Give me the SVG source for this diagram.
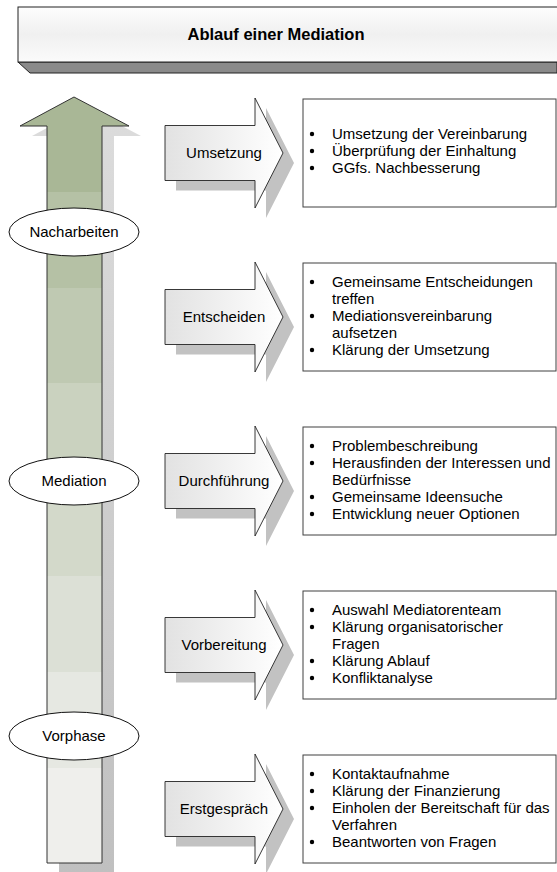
<svg xmlns="http://www.w3.org/2000/svg" width="557" height="872" viewBox="0 0 557 872">
<style>
text{font-family:"Liberation Sans",Arial,sans-serif;fill:#000}
.lbl{font-size:15px;text-anchor:middle}
.bl{font-size:15px}
.box{fill:#fff;stroke:#404040;stroke-width:1}
.arr{fill:url(#hg);stroke:#222;stroke-width:0.9}
.sh{fill:#c2c2c2}
.ell{fill:#fff;stroke:#111;stroke-width:1}
.dot{fill:#000}
</style>
<defs>
<linearGradient id="hg" x1="0" y1="0" x2="1" y2="0">
<stop offset="0" stop-color="#e2e2e2"/><stop offset="1" stop-color="#ffffff"/>
</linearGradient>
<linearGradient id="tg" x1="0" y1="0" x2="0" y2="1">
<stop offset="0" stop-color="#fdfdfd"/><stop offset="0.5" stop-color="#f0f0f0"/><stop offset="1" stop-color="#fbfbfb"/>
</linearGradient>
<linearGradient id="vg" gradientUnits="userSpaceOnUse" x1="0" y1="97" x2="0" y2="863">
<stop offset="0" stop-color="#a9b796"/><stop offset="0.124" stop-color="#a9b796"/>
<stop offset="0.124" stop-color="#b5c1a5"/><stop offset="0.249" stop-color="#b5c1a5"/>
<stop offset="0.249" stop-color="#bfc9b2"/><stop offset="0.373" stop-color="#bfc9b2"/>
<stop offset="0.373" stop-color="#cad2bf"/><stop offset="0.5" stop-color="#cad2bf"/>
<stop offset="0.5" stop-color="#d3d9ca"/><stop offset="0.625" stop-color="#d3d9ca"/>
<stop offset="0.625" stop-color="#dce0d6"/><stop offset="0.751" stop-color="#dce0d6"/>
<stop offset="0.751" stop-color="#e6e8e2"/><stop offset="0.876" stop-color="#e6e8e2"/>
<stop offset="0.876" stop-color="#efefec"/><stop offset="1" stop-color="#efefec"/>
</linearGradient>
<linearGradient id="vsh" x1="0" y1="0" x2="0" y2="1">
<stop offset="0" stop-color="#dcdcdc"/><stop offset="1" stop-color="#c0c0c0"/>
</linearGradient>
<polygon id="ha" points="165,-27.5 255,-27.5 255,-55 283,0 255,55 255,27.5 165,27.5"/>
</defs>

<g id="title">
<polygon points="18,62 30,73 557,73 557,62" fill="#8a8a8a" stroke="#222" stroke-width="1"/>
<rect x="18" y="7" width="545" height="55" fill="url(#tg)" stroke="#222" stroke-width="1"/>
<text x="276" y="40" font-size="16.5" font-weight="bold" text-anchor="middle">Ablauf einer Mediation</text>
</g>

<g id="timeline">
<polygon points="86,107 141,136 114,136 114,872 59,872 59,136 32,136" fill="url(#vsh)"/>
<polygon points="74,97 129,126 102,126 102,863 47,863 47,126 20,126" fill="url(#vg)" stroke="#333" stroke-width="1"/>
</g>

<g id="phase-nacharbeiten">
<ellipse class="ell" cx="74" cy="232" rx="65" ry="24"/>
<text class="lbl" x="74" y="237">Nacharbeiten</text>
</g>
<g id="phase-mediation">
<ellipse class="ell" cx="74" cy="481" rx="65" ry="24"/>
<text class="lbl" x="74" y="486">Mediation</text>
</g>
<g id="phase-vorphase">
<ellipse class="ell" cx="74" cy="736" rx="65" ry="24"/>
<text class="lbl" x="74" y="741">Vorphase</text>
</g>

<g id="step-umsetzung" transform="translate(0,153)">
<use href="#ha" class="sh" transform="translate(11,10)"/>
<use href="#ha" class="arr"/>
<text class="lbl" x="224" y="5">Umsetzung</text>
<rect class="box" x="303" y="-54" width="253" height="108"/>
<circle class="dot" cx="312" cy="-19" r="2.2"/><text class="bl" x="332" y="-14">Umsetzung der Vereinbarung</text>
<circle class="dot" cx="312" cy="-2" r="2.2"/><text class="bl" x="332" y="3">Überprüfung der Einhaltung</text>
<circle class="dot" cx="312" cy="15" r="2.2"/><text class="bl" x="332" y="20">GGfs. Nachbesserung</text>
</g>

<g id="step-entscheiden" transform="translate(0,317)">
<use href="#ha" class="sh" transform="translate(11,10)"/>
<use href="#ha" class="arr"/>
<text class="lbl" x="224" y="5">Entscheiden</text>
<rect class="box" x="303" y="-54" width="253" height="108"/>
<circle class="dot" cx="312" cy="-35" r="2.2"/><text class="bl" x="332" y="-30">Gemeinsame Entscheidungen</text>
<text class="bl" x="332" y="-13">treffen</text>
<circle class="dot" cx="312" cy="-1" r="2.2"/><text class="bl" x="332" y="4">Mediationsvereinbarung</text>
<text class="bl" x="332" y="21">aufsetzen</text>
<circle class="dot" cx="312" cy="33" r="2.2"/><text class="bl" x="332" y="38">Klärung der Umsetzung</text>
</g>

<g id="step-durchfuehrung" transform="translate(0,481)">
<use href="#ha" class="sh" transform="translate(11,10)"/>
<use href="#ha" class="arr"/>
<text class="lbl" x="224" y="5">Durchführung</text>
<rect class="box" x="303" y="-54" width="253" height="108"/>
<circle class="dot" cx="312" cy="-35" r="2.2"/><text class="bl" x="332" y="-30">Problembeschreibung</text>
<circle class="dot" cx="312" cy="-18" r="2.2"/><text class="bl" x="332" y="-13">Herausfinden der Interessen und</text>
<text class="bl" x="332" y="4">Bedürfnisse</text>
<circle class="dot" cx="312" cy="16" r="2.2"/><text class="bl" x="332" y="21">Gemeinsame Ideensuche</text>
<circle class="dot" cx="312" cy="33" r="2.2"/><text class="bl" x="332" y="38">Entwicklung neuer Optionen</text>
</g>

<g id="step-vorbereitung" transform="translate(0,645)">
<use href="#ha" class="sh" transform="translate(11,10)"/>
<use href="#ha" class="arr"/>
<text class="lbl" x="224" y="5">Vorbereitung</text>
<rect class="box" x="303" y="-54" width="253" height="108"/>
<circle class="dot" cx="312" cy="-35" r="2.2"/><text class="bl" x="332" y="-30">Auswahl Mediatorenteam</text>
<circle class="dot" cx="312" cy="-18" r="2.2"/><text class="bl" x="332" y="-13">Klärung organisatorischer</text>
<text class="bl" x="332" y="4">Fragen</text>
<circle class="dot" cx="312" cy="16" r="2.2"/><text class="bl" x="332" y="21">Klärung Ablauf</text>
<circle class="dot" cx="312" cy="33" r="2.2"/><text class="bl" x="332" y="38">Konfliktanalyse</text>
</g>

<g id="step-erstgespraech" transform="translate(0,809)">
<use href="#ha" class="sh" transform="translate(11,10)"/>
<use href="#ha" class="arr"/>
<text class="lbl" x="224" y="5">Erstgespräch</text>
<rect class="box" x="303" y="-54" width="253" height="108"/>
<circle class="dot" cx="312" cy="-35" r="2.2"/><text class="bl" x="332" y="-30">Kontaktaufnahme</text>
<circle class="dot" cx="312" cy="-18" r="2.2"/><text class="bl" x="332" y="-13">Klärung der Finanzierung</text>
<circle class="dot" cx="312" cy="-1" r="2.2"/><text class="bl" x="332" y="4">Einholen der Bereitschaft für das</text>
<text class="bl" x="332" y="21">Verfahren</text>
<circle class="dot" cx="312" cy="33" r="2.2"/><text class="bl" x="332" y="38">Beantworten von Fragen</text>
</g>
</svg>
